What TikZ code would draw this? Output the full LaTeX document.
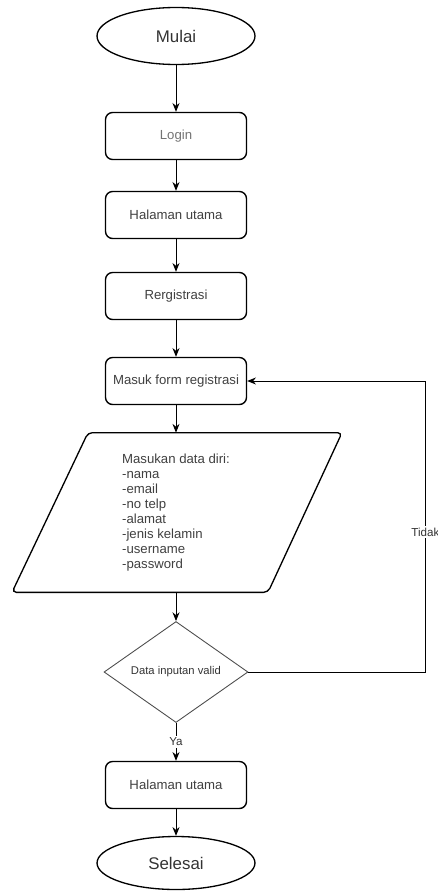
\documentclass[tikz,border=0pt]{standalone}
\usepackage{fontspec}
\setmainfont{Liberation Sans}
\usetikzlibrary{arrows.meta, positioning, calc, shapes.geometric}
\newcommand\midx{176}

\begin{document}
\begin{tikzpicture}[x=0.02cm, y=-0.02cm,
    terminal/.style={ellipse, draw, line width=0.75pt, minimum width=3.16cm, minimum height=1.14cm, font=\fontsize{9.6}{11}\selectfont, text=black!80},
    process/.style={rectangle, rounded corners=4pt, draw, line width=0.8pt, minimum width=2.82cm, minimum height=0.94cm, font=\fontsize{7.5}{9}\selectfont, text=black!75},
    inputbox/.style={rectangle, minimum height=3.18cm, inner sep=0pt, align=left, font=\fontsize{7.5}{8.6}\selectfont, text=black!75},
    decision/.style={diamond, aspect=1.4, draw=black!70, line width=0.5pt, minimum width=2.88cm, minimum height=2.02cm, inner sep=0pt, font=\fontsize{6.4}{8}\selectfont, text=black!80},
    line/.style={-{Stealth[length=5pt, width=4pt]}, line width=0.5pt},
    lbl/.style={fill=white, inner sep=1pt, font=\fontsize{6.6}{8}\selectfont, text=black!80}]

    \useasboundingbox (0, 0) rectangle (437, 892);

    %Alur registrasi
    \node at (\midx, 36) [terminal] (mulai) {Mulai};
    \node at (\midx, 136) [process, text=black!55] (login) {Login};
    \node at (\midx, 215) [process] (home) {Halaman utama};
    \node at (\midx, 296) [process] (reg) {Rergistrasi};
    \node at (\midx, 381) [process] (form) {Masuk form registrasi};
    \node at (\midx, 512.5) [inputbox] (data) {Masukan data diri:\\-nama\\-email\\-no telp\\-alamat\\-jenis kelamin\\-username\\-password};
    \node at (\midx, 672) [decision] (valid) {Data inputan valid};
    \node at (\midx, 785) [process] (home2) {Halaman utama};
    \node at (\midx, 863) [terminal, minimum height=1.06cm] (selesai) {Selesai};

    % jajaran genjang input
    \draw[line width=0.75pt, rounded corners=2.5pt] ($(data.north) + (-88, 0)$) -- ($(data.north) + (166, 0)$)
        -- ($(data.south) + (92, 0)$) -- ($(data.south) + (-164, 0)$) -- cycle;

    \draw[line] (mulai) -- (login);
    \draw[line] (login) -- (home);
    \draw[line] (home) -- (reg);
    \draw[line] (reg) -- (form);
    \draw[line] (form) -- (data);
    \draw[line] (data) -- (valid);
    \draw[line] (valid) -- node[lbl] {Ya} (home2);
    \draw[line] (home2) -- (selesai);

    % kembali ke form jika tidak valid
    \draw[line] (valid.east) -- ++(177, 0) coordinate (back) |- node[pos=0.24, lbl] {Tidak} (form.east);
\end{tikzpicture}
\end{document}
